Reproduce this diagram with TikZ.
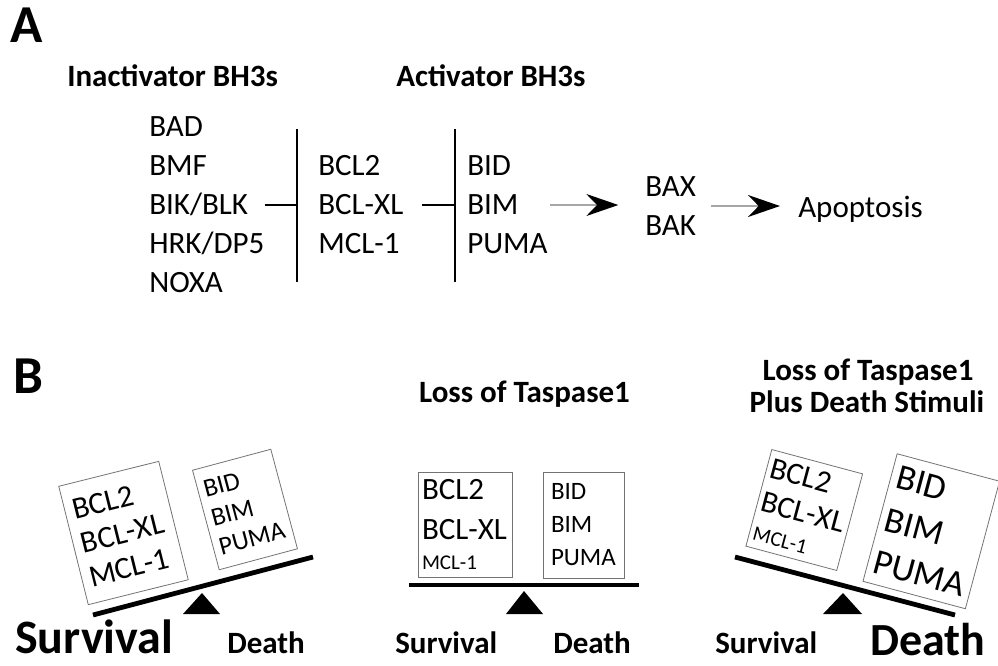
\documentclass[tikz,border=0pt]{standalone}
\usepackage{fontspec}
\setmainfont{Carlito}
\usetikzlibrary{arrows.meta}
\newcommand{\fsz}[2]{\fontsize{#1}{#2}\selectfont}

\begin{document}
\begin{tikzpicture}
[x=0.75pt,y=-0.75pt,
  txt/.style={inner sep=0pt,align=left,font=\fsz{23.25pt}{29.25pt}},
  heading/.style={inner sep=0pt,font=\bfseries\fsz{23.25pt}{29pt}},
  letter/.style={inner sep=0pt,font=\bfseries\fsz{40pt}{40pt}},
  bar/.style={line width=1.3pt},
  activate/.style={draw=black!35,line width=1.3pt,-{Stealth[color=black,length=24pt,width=16.5pt,inset=8pt]}},
  balbox/.style={draw=black!55,line width=0.6pt,inner ysep=0pt,align=left},
  beam/.style={line width=3.6pt},
  pivot/.style={fill=black}]
\useasboundingbox (0,0) rectangle (998,665);
% panel A: labels
\node[letter,anchor=base west] (labA) at (10,42) {A};
\node[heading,anchor=base west] (inacthead) at (67,86) {Inactivator BH3s};
\node[heading,anchor=base west] (acthead) at (396,86) {Activator BH3s};
% panel A: protein groups
\node[txt,anchor=west] (inact) at (149,205) {BAD\\BMF\\BIK/BLK\\HRK/DP5\\NOXA};
\node[txt,anchor=west] (antiapo) at (318,205) {BCL2\\BCL-XL\\MCL-1};
\node[txt,anchor=west] (act) at (467,205) {BID\\BIM\\PUMA};
\node[txt,anchor=west] (effector) at (645,206) {BAX\\BAK};
\node[txt,anchor=base west] (apo) at (798,217) {Apoptosis};
% panel A: inhibition bars
\coordinate (gate1) at (297,129);
\coordinate (gate1b) at (297,282);
\coordinate (gate2) at (455,129);
\coordinate (gate2b) at (455,282);
\draw[bar] (gate1) -- (gate1b);
\draw[bar] (gate2) -- (gate2b);
\draw[bar] (inact.east) -- (inact.east -| gate1);
\draw[bar,shorten <=14pt] (antiapo.east) -- (antiapo.east -| gate2);
% panel A: activation arrows
\draw[activate,shorten <=1.5pt,shorten >=20pt] (act.east) -- (act.east -| effector.west);
\draw[activate,shorten <=11pt,shorten >=13.5pt] (effector.east) -- (effector.east -| apo.west);

% panel B
\node[letter,anchor=base west] (labB) at (13,393) {B};
% left balance: survival
\coordinate (beamL1) at (93,615);
\coordinate (beamL2) at (313,557);
\draw[beam] (beamL1) -- (beamL2);
\fill[pivot] (183,614) -- (220,614) -- (202,593) -- cycle;
\node[balbox,rotate=14,inner xsep=6pt,text width=65.25pt,minimum height=91.5pt,
  font=\fsz{23.25pt}{26.25pt}] (survL) at (123.5,533) {BCL2\\BCL-XL\\MCL-1};
\node[balbox,rotate=15,inner xsep=4.5pt,text width=51.75pt,minimum height=77.25pt,
  font=\fsz{19.5pt}{22.5pt}] (deathL) at (245,509.5) {BID\\BIM\\PUMA};
\node[heading,font=\bfseries\fsz{36pt}{36pt},anchor=base west] (survtxtL) at (15,653) {Survival};
\node[heading,anchor=base west] (deathtxtL) at (227,653) {Death};
% middle balance: loss of Taspase1
\node[heading,anchor=base] (titleM) at (524.5,402) {Loss of Taspase1};
\coordinate (beamM1) at (409,585);
\coordinate (beamM2) at (639,585);
\draw[beam] (beamM1) -- (beamM2);
\fill[pivot] (506,614) -- (543,614) -- (524,591) -- cycle;
\node[balbox,inner xsep=3pt,text width=64.5pt,minimum height=78.75pt,
  font=\fsz{23.25pt}{29.25pt}] (survM) at (465,524.5) {BCL2\\BCL-XL\\[-6.75pt]{\fsz{15.75pt}{18pt}MCL-1}};
\node[balbox,inner xsep=6pt,text width=48.75pt,minimum height=79.5pt,
  font=\fsz{18.75pt}{24.75pt}] (deathM) at (583.5,525) {BID\\BIM\\PUMA};
\node[heading,anchor=base west] (survtxtM) at (395,653) {Survival};
\node[heading,anchor=base west] (deathtxtM) at (553,653) {Death};
% right balance: loss of Taspase1 plus death stimuli
\node[heading,anchor=base] (titleR) at (868,380) {Loss of Taspase1};
\node[heading,anchor=base] (titleR2) at (867,412) {Plus Death Stimuli};
\coordinate (beamR1) at (735,557);
\coordinate (beamR2) at (955,615);
\draw[beam] (beamR1) -- (beamR2);
\fill[pivot] (823,614) -- (862,614) -- (843,593) -- cycle;
\node[balbox,rotate=-15,inner xsep=3pt,text width=64.5pt,minimum height=75pt,
  font=\fsz{23.25pt}{26.25pt}] (survR) at (804.25,510) {BCL2\\BCL-XL\\[-3.75pt]{\fsz{15.75pt}{18pt}MCL-1}};
\node[balbox,rotate=-15,inner xsep=4.5pt,text width=70.5pt,minimum height=99pt,
  font=\fsz{27pt}{33pt}] (deathR) at (931.25,531.25) {BID\\BIM\\PUMA};
\node[heading,anchor=base west] (survtxtR) at (715,653) {Survival};
\node[heading,font=\bfseries\fsz{34.5pt}{34.5pt},anchor=base west] (deathtxtR) at (870,655) {Death};
\end{tikzpicture}
\end{document}
